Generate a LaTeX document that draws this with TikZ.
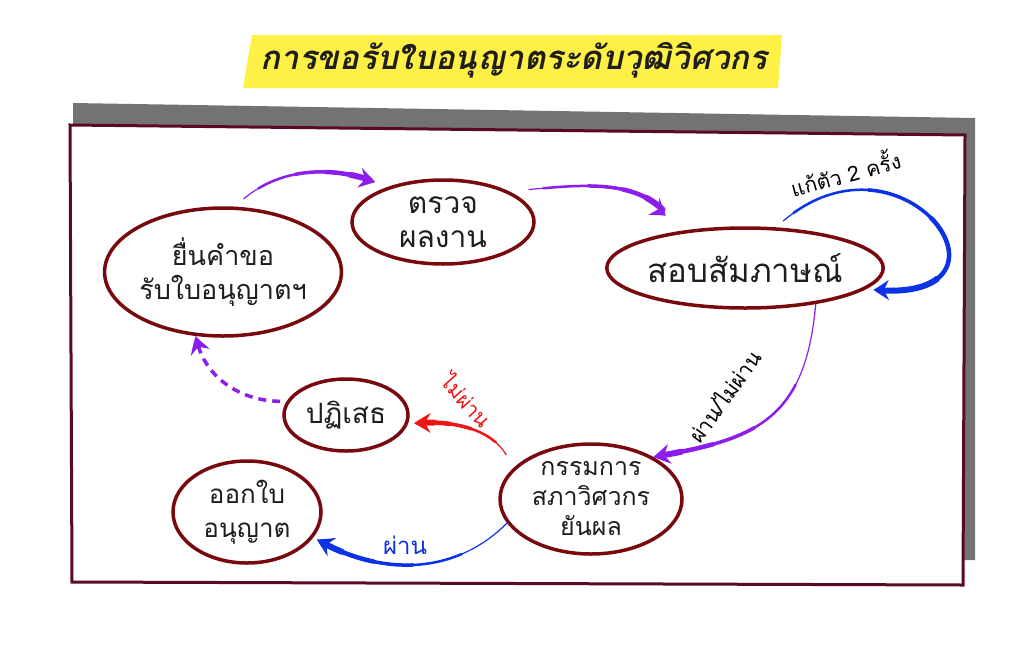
\documentclass[tikz,border=0pt]{standalone}
\usepackage{fontspec}
\usepackage{tikz}
\usetikzlibrary{arrows.meta}
\usetikzlibrary{bending}
\usetikzlibrary{shapes.geometric}
\newfontfamily\thai[Script=Thai]{Loma}
\definecolor{ovalred}{RGB}{120,10,15}
\definecolor{framered}{RGB}{88,10,40}
\definecolor{shadowgray}{RGB}{115,115,115}
\definecolor{titleyellow}{RGB}{255,240,70}
\definecolor{ink}{RGB}{30,30,30}
\definecolor{cviolet}{RGB}{140,30,235}
\definecolor{cblue}{RGB}{10,50,230}
\definecolor{cred}{RGB}{240,20,20}

\begin{document}
\begin{tikzpicture}[x=1pt, y=1pt,
    bubble/.style={ellipse, draw=ovalred, line width=3.5pt, fill=white, align=center,
      inner sep=0pt, text=ink, font=\thai\fontsize{#1}{34}\selectfont},
    bubble/.default=28,
    lab/.style={font=\thai\fontsize{21}{25}\selectfont, inner sep=1pt},
    headtip/.style={line width=1pt, dash pattern=on 0pt off 3000pt,
      arrows={{Stealth[bend,length=17pt,width=20pt,inset=6pt]}-}},
    taper/.style={line cap=round}]
    \useasboundingbox (0,0) rectangle (1024,-653);

    % title
    \fill [titleyellow] (252,-35) -- (782,-35) -- (778,-88) -- (243,-88) -- cycle;
    \node [font=\thai\bfseries\itshape\fontsize{33}{38}\selectfont, text=ink] (title) at (514,-60) {การขอรับใบอนุญาตระดับวุฒิวิศวกร};

    % board
    \fill [shadowgray] (73,-103) -- (975,-118) -- (975,-560) -- (73,-560) -- cycle;
    \draw [framered, fill=white, line width=3pt] (70,-125) -- (965,-135) -- (963,-585) -- (72,-582) -- cycle;

    \node [bubble=27, minimum width=216pt, minimum height=128pt] (req) at (223,-272) {ยื่นคำขอ\\รับใบอนุญาตฯ};
    \node [bubble=30, minimum width=182pt, minimum height=84pt] (check) at (443,-222) {ตรวจ\\ผลงาน};
    \node [bubble=33, minimum width=204pt, minimum height=80pt] (interview) at (745,-268) {สอบสัมภาษณ์};
    \node [bubble=25, minimum width=182pt, minimum height=110pt, font=\thai\fontsize{25}{30}\selectfont] (council) at (591,-499) {กรรมการ\\สภาวิศวกร\\ยันผล};
    \node [bubble=28, minimum width=124pt, minimum height=72pt] (reject) at (346,-415) {ปฏิเสธ};
    \node [bubble=26, minimum width=148pt, minimum height=102pt] (issue) at (247,-512) {ออกใบ\\อนุญาต};

    % req -> check
    \begin{scope}[cviolet, shorten <=14pt, shorten >=12pt]
      \draw [headtip] (check.147) to[out=160, in=40] (req.80);
      \foreach \w/\d [evaluate=\d as \ph using \d+2994] in {1.2/400, 2.5/115, 3.5/75, 4.5/45, 6/20}
        \draw [taper, line width=\w pt, dash pattern=on \d pt off 3000pt, dash phase=\ph pt] (check.147) to[out=160, in=40] (req.80);
    \end{scope}

    % check -> interview
    \begin{scope}[cviolet, shorten <=22pt, shorten >=20pt]
      \draw [headtip] (interview.150) to[out=130, in=5] (check.25);
      \foreach \w/\d [evaluate=\d as \ph using \d+2994] in {1.2/400, 2.5/125, 3.5/80, 4.5/45, 6/20}
        \draw [taper, line width=\w pt, dash pattern=on \d pt off 3000pt, dash phase=\ph pt] (interview.150) to[out=130, in=5] (check.25);
    \end{scope}

    % retry loop
    \begin{scope}[cblue, shorten <=8pt, shorten >=10pt]
      \draw [headtip] (interview.-10) to[out=-5, in=40, distance=170pt] (interview.53);
      \foreach \w/\d [evaluate=\d as \ph using \d+2994] in {1.2/800, 2.5/280, 3.5/200, 4.5/130, 6/60}
        \draw [taper, line width=\w pt, dash pattern=on \d pt off 3000pt, dash phase=\ph pt] (interview.-10) to[out=-5, in=40, distance=170pt] (interview.53);
    \end{scope}
    \node [lab, rotate=15] (retry) at (845,-172) {แก้ตัว 2 ครั้ง};

    % interview -> council
    \begin{scope}[cviolet]
      \draw [headtip] (council.34) to[out=10, in=-95, out distance=100pt, in distance=120pt] (interview.-27);
      \foreach \w/\d [evaluate=\d as \ph using \d+2994] in {1.2/800, 2.5/160, 3.5/100, 4.5/55, 6/22}
        \draw [taper, line width=\w pt, dash pattern=on \d pt off 3000pt, dash phase=\ph pt] (council.34) to[out=10, in=-95, out distance=100pt, in distance=120pt] (interview.-27);
    \end{scope}
    \node [lab, rotate=54] (result) at (724,-396) {ผ่าน/ไม่ผ่าน};

    % council -> reject
    \begin{scope}[cred, shorten <=6pt, shorten >=15pt]
      \draw [headtip] (reject.-8) to[out=5, in=120] (council.158);
      \foreach \w/\d [evaluate=\d as \ph using \d+2994] in {1.2/400, 2.5/80, 3.5/52, 4.5/30, 6/14}
        \draw [taper, line width=\w pt, dash pattern=on \d pt off 3000pt, dash phase=\ph pt] (reject.-8) to[out=5, in=120] (council.158);
    \end{scope}
    \node [lab, text=cred, rotate=-48] (fail) at (467,-400) {ไม่ผ่าน};

    % council -> issue
    \begin{scope}[cblue, shorten <=4pt]
      \draw [headtip] (issue.-21) to[out=-30, in=-135] (council.196);
      \foreach \w/\d [evaluate=\d as \ph using \d+2994] in {1.2/800, 2.5/145, 3.5/95, 4.5/55, 6/22}
        \draw [taper, line width=\w pt, dash pattern=on \d pt off 3000pt, dash phase=\ph pt] (issue.-21) to[out=-30, in=-135] (council.196);
    \end{scope}
    \node [lab, text=cblue, font=\thai\fontsize{24}{28}\selectfont] (pass) at (405,-545) {ผ่าน};

    % reject -> req, again
    \draw [cviolet, line width=3.5pt, dash pattern=on 8pt off 6pt, shorten >=6pt,
      arrows={{Stealth[bend,length=17pt,width=20pt,inset=6pt]}-}] (req.-113) to[out=-80, in=180] (reject.167);
  \end{tikzpicture}
\end{document}
